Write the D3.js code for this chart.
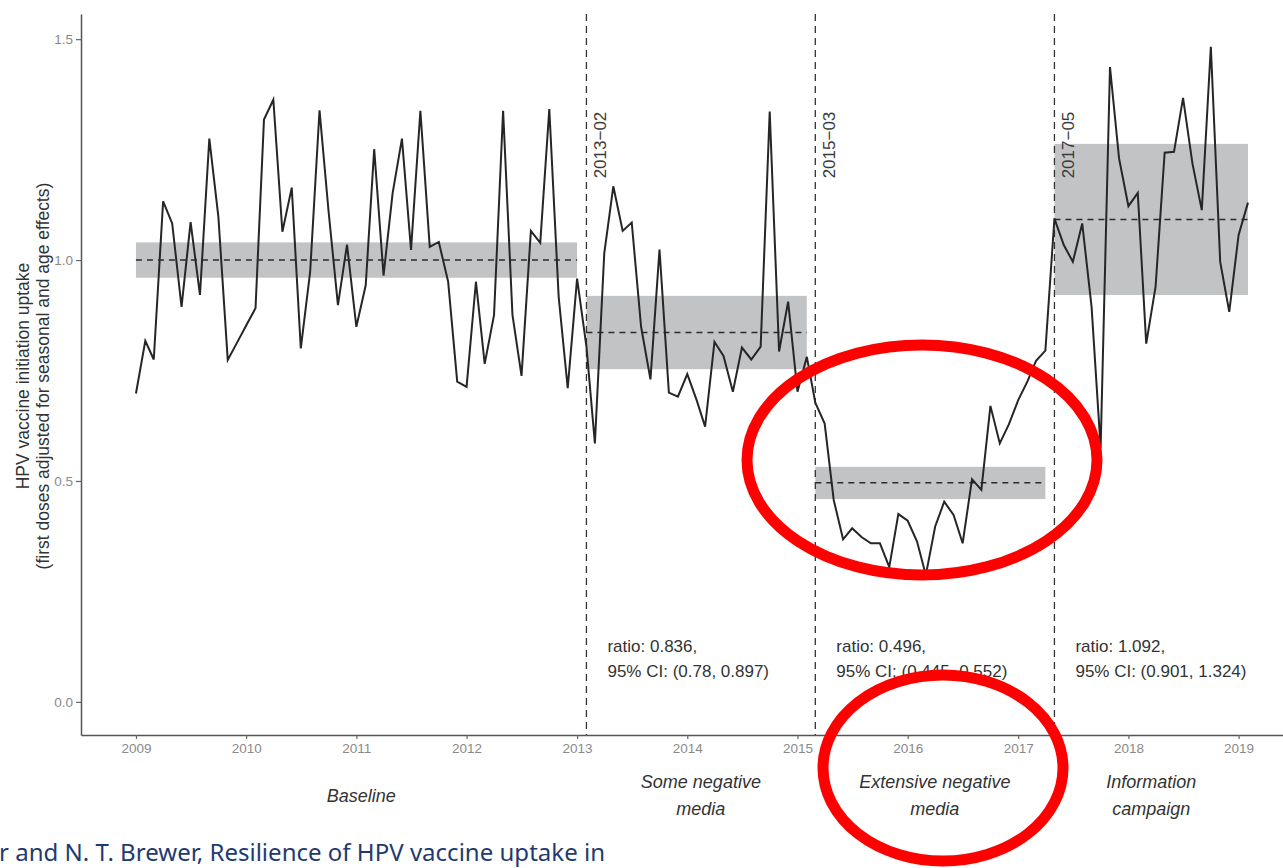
<!DOCTYPE html>
<html>
<head>
<meta charset="utf-8">
<script src="https://cdn.jsdelivr.net/npm/d3@7"></script>
<style>
  body { margin: 0; background: #ffffff; }
  svg { display: block; font-family: "Liberation Sans", Arial, sans-serif; }
</style>
</head>
<body>
<script>
// Monthly uptake ratio, starting 2009-01
const firstMonth = new Date(2009, 0, 1);
const uptake = [
  0.698, 0.817, 0.775, 1.133, 1.083, 0.894, 1.086, 0.921, 1.275, 1.098, 0.774, 0.812,
  0.852, 0.891, 1.318, 1.363, 1.064, 1.164, 0.800, 0.974, 1.339, 1.110, 0.898, 1.035,
  0.849, 0.943, 1.251, 0.965, 1.151, 1.275, 1.023, 1.338, 1.030, 1.041, 0.951, 0.725,
  0.713, 0.951, 0.765, 0.876, 1.338, 0.876, 0.738, 1.066, 1.039, 1.342, 0.917, 0.710,
  0.958, 0.804, 0.585, 1.015, 1.167, 1.066, 1.085, 0.849, 0.730, 1.024, 0.700, 0.691,
  0.742, 0.683, 0.623, 0.815, 0.783, 0.702, 0.802, 0.775, 0.804, 1.336, 0.793, 0.906,
  0.702, 0.781, 0.677, 0.630, 0.457, 0.368, 0.393, 0.373, 0.359, 0.359, 0.305, 0.425,
  0.410, 0.363, 0.287, 0.397, 0.453, 0.423, 0.359, 0.504, 0.480, 0.670, 0.585, 0.628,
  0.683, 0.726, 0.772, 0.795, 1.094, 1.034, 0.996, 1.083, 0.894, 0.575, 1.437, 1.230,
  1.122, 1.152, 0.811, 0.940, 1.243, 1.245, 1.367, 1.219, 1.113, 1.483, 0.996, 0.883,
  1.057, 1.130
];

// Periods
const periodStart = ["2009-01", "2013-02", "2015-03", "2017-05"];
const periodEnd   = ["2013-01", "2015-02", "2017-04", "2019-02"];
const periodMean  = [1.000, 0.836, 0.496, 1.092];
const periodLow   = [0.960, 0.753, 0.459, 0.921];
const periodHigh  = [1.040, 0.919, 0.532, 1.263];
const periodNames = [["Baseline"], ["Some negative", "media"], ["Extensive negative", "media"], ["Information", "campaign"]];
const ratioLabels = [null, "ratio: 0.836,", "ratio: 0.496,", "ratio: 1.092,"];
const ciLabels    = [null, "95% CI: (0.78, 0.897)", "95% CI: (0.445, 0.552)", "95% CI: (0.901, 1.324)"];
const changeDates = ["2013-02", "2015-03", "2017-05"];
const yTicks = [0.0, 0.5, 1.0, 1.5];

const SVG_WIDTH = 1283, SVG_HEIGHT = 868;
let svg = null;
let x, y = null;
const parseMonth = d3.timeParse("%Y-%m");

// Main Process
appendSvg("body");
setupScales();
appendBands();
appendChangeLines();
appendLine();
appendAxes();
appendTexts();
appendHighlights();

function appendSvg(domElement) {
  svg = d3.select(domElement).append("svg")
    .attr("width", SVG_WIDTH)
    .attr("height", SVG_HEIGHT);
}

function setupScales() {
  x = d3.scaleTime()
    .domain([new Date(2008, 6, 3), new Date(2019, 4, 28)])
    .range([81, 1283]);
  y = d3.scaleLinear()
    .domain([-0.075, 1.557])
    .range([735, 14]);
}

// grey CI bands with dashed mean
function appendBands() {
  periodStart.forEach((s, k) => {
    const x0 = x(parseMonth(s)), x1 = x(parseMonth(periodEnd[k]));
    svg.append("rect")
      .attr("x", x0).attr("width", x1 - x0)
      .attr("y", y(periodHigh[k])).attr("height", y(periodLow[k]) - y(periodHigh[k]))
      .attr("fill", "#c2c3c5");
    svg.append("line")
      .attr("x1", x0).attr("x2", x1)
      .attr("y1", y(periodMean[k])).attr("y2", y(periodMean[k]))
      .attr("stroke", "#2b2b2b").attr("stroke-width", 1.5)
      .attr("stroke-dasharray", "6,5");
  });
}

function appendChangeLines() {
  changeDates.forEach(d => {
    const cx = x(parseMonth(d));
    svg.append("line")
      .attr("x1", cx).attr("x2", cx)
      .attr("y1", y.range()[1]).attr("y2", y.range()[0])
      .attr("stroke", "#333").attr("stroke-width", 1.3)
      .attr("stroke-dasharray", "7,5");
    svg.append("text")
      .attr("transform", `translate(${cx + 20}, ${y(1.185)}) rotate(-90)`)
      .attr("font-size", "17px").attr("fill", "#3a3a3a")
      .text(d.replace("-", "\u2212"));
  });
}

function appendLine() {
  const line = d3.line()
    .x((d, i) => x(d3.timeMonth.offset(firstMonth, i)))
    .y(d => y(d));
  svg.append("path")
    .datum(uptake)
    .attr("d", line)
    .attr("fill", "none")
    .attr("stroke", "#262626")
    .attr("stroke-width", 2)
    .attr("stroke-linejoin", "miter");
}

function appendAxes() {
  const gx = svg.append("g")
    .attr("transform", `translate(0, ${y.range()[0]})`)
    .call(d3.axisBottom(x).ticks(d3.timeYear).tickFormat(d3.timeFormat("%Y"))
      .tickSize(4).tickSizeOuter(0).tickPadding(4));
  const gy = svg.append("g")
    .attr("transform", `translate(${x.range()[0]}, 0)`)
    .call(d3.axisLeft(y).tickValues(yTicks).tickFormat(d3.format(".1f"))
      .tickSize(5).tickSizeOuter(0).tickPadding(3));
  [gx, gy].forEach(g => {
    g.select(".domain").attr("stroke", "#555").attr("stroke-width", 1.5);
    g.selectAll(".tick line").attr("stroke", "#666").attr("stroke-width", 1.2);
    g.selectAll(".tick text").attr("fill", "#8a8a8a")
      .attr("font-size", "13.5px").attr("font-family", "Liberation Sans, Arial, sans-serif");
  });

  // y title
  const yt = ["HPV vaccine initiation uptake", "(first doses adjusted for seasonal and age effects)"];
  yt.forEach((t, k) => {
    svg.append("text")
      .attr("transform", `translate(${29 + k * 20}, 376) rotate(-90)`)
      .attr("text-anchor", "middle")
      .attr("font-size", "17.5px").attr("fill", "#333")
      .text(t);
  });
}

function appendTexts() {
  periodStart.forEach((s, k) => {
    const a = x(parseMonth(s));
    const b = k < periodStart.length - 1 ? x(parseMonth(periodStart[k + 1])) : x(parseMonth(periodEnd[k]));
    const names = periodNames[k];
    const t = svg.append("text")
      .attr("text-anchor", "middle")
      .attr("font-size", "18px").attr("font-style", "italic").attr("fill", "#333");
    names.forEach((n, j) => {
      t.append("tspan")
        .attr("x", (a + b) / 2)
        .attr("y", names.length === 1 ? 802 : 788 + j * 27)
        .text(n);
    });
    if (ratioLabels[k]) {
      svg.append("text")
        .attr("x", a + 21).attr("y", y(0.113))
        .attr("font-size", "17px").attr("fill", "#333")
        .text(ratioLabels[k]);
      svg.append("text")
        .attr("x", a + 21).attr("y", y(0.057))
        .attr("font-size", "17px").attr("fill", "#333")
        .text(ciLabels[k]);
    }
  });

  // slide citation fragment
  svg.append("text")
    .attr("x", -1).attr("y", 861)
    .attr("font-family", "Noto Sans, Open Sans, sans-serif")
    .attr("font-size", "24px").attr("fill", "#1f3a70")
    .attr("textLength", 606).attr("lengthAdjust", "spacingAndGlyphs")
    .text("r and N. T. Brewer, Resilience of HPV vaccine uptake in");
}

// red circles drawn on top of the chart
function appendHighlights() {
  const rings = [
    {cx: 922, cy: 460, rx: 175, ry: 115},
    {cx: 943, cy: 768, rx: 120, ry: 93}
  ];
  svg.selectAll("ellipse.ring").data(rings).enter().append("ellipse")
    .attr("class", "ring")
    .attr("cx", d => d.cx).attr("cy", d => d.cy)
    .attr("rx", d => d.rx).attr("ry", d => d.ry)
    .attr("fill", "none").attr("stroke", "#ff0000").attr("stroke-width", 11);
}
</script>
</body>
</html>
